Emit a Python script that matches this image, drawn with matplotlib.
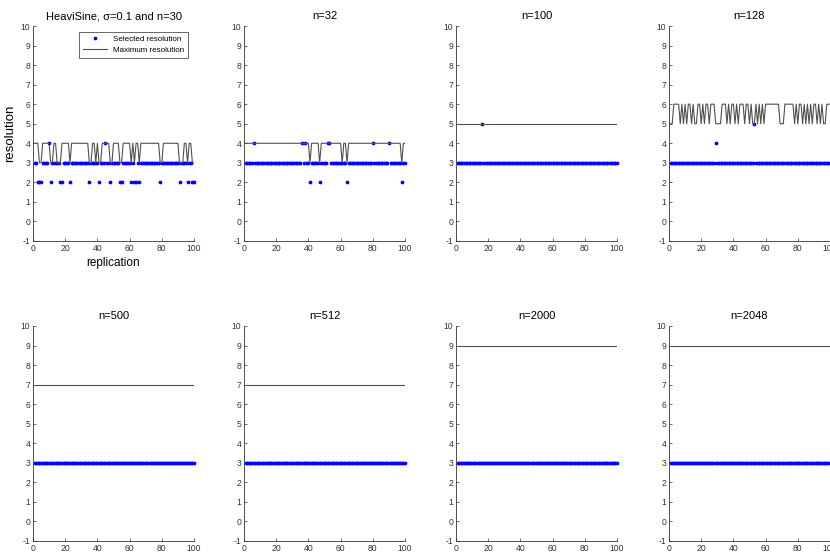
import matplotlib
matplotlib.use("Agg")
import matplotlib.pyplot as plt
import numpy as np

plt.rcParams["font.family"] = ["Liberation Sans", "DejaVu Sans"]

# replication index
replication = list(range(1, 101))

titles = ["HeaviSine, \u03c3=0.1 and n=30", "n=32", "n=100", "n=128",
          "n=500", "n=512", "n=2000", "n=2048"]

# maximum resolution per replication (one digit per replication, 10 per group)
max_n30 = ("4443344444" "3344333444" "4434444444" "4444334434"
           "3344444334" "4443344444" "3434434444" "4444444433"
           "4444444444" "3334434433")
max_n32 = ("4444444444" "4444444444" "4444444444" "4444444444"
           "3444443444" "4444444444" "3443444444" "4444444444"
           "4444444444" "4444444344")
max_n100 = [5] * 100
max_n128 = ("5566665656" "5665655665" "6566566655" "5566656566"
            "5656665665" "6556565656" "6666666655" "5666666565"
            "6656565656" "6565655666")
max_n500 = [7] * 100
max_n512 = [7] * 100
max_n2000 = [9] * 100
max_n2048 = [9] * 100

# selected resolution per replication
sel_n30 = ("3322233334" "2333332233" "3323333333" "3333233333"
           "2333433233" "3332233333" "2322323333" "3333333323"
           "3333333333" "2333323322")
sel_n32 = ("3333343333" "3333333333" "3333333333" "3333343433"
           "2333332333" "3443333333" "3332333333" "3333333334"
           "3333333334" "3333333233")
sel_n100 = ("3333333333" "3333353333" "3333333333" "3333333333"
            "3333333333" "3333333333" "3333333333" "3333333333"
            "3333333333" "3333333333")
sel_n128 = ("3333333333" "3333333333" "3333333343" "3333333333"
            "3333333333" "3353333333" "3333333333" "3333333333"
            "3333333333" "3333333333")
sel_n500 = [3] * 100
sel_n512 = [3] * 100
sel_n2000 = [3] * 100
sel_n2048 = [3] * 100

max_res = [max_n30, max_n32, max_n100, max_n128,
           max_n500, max_n512, max_n2000, max_n2048]
sel_res = [sel_n30, sel_n32, sel_n100, sel_n128,
           sel_n500, sel_n512, sel_n2000, sel_n2048]


def to_array(v):
    return np.array([int(c) for c in v]) if isinstance(v, str) else np.array(v)


fig = plt.figure(figsize=(8.3, 5.53), dpi=100)

W, H = 830.0, 553.0
lefts = [33, 244, 456, 669]
tops = [26, 326]
aw, ah = 161, 215

narrow = ["Liberation Sans Narrow", "Liberation Sans", "DejaVu Sans"]

for i in range(8):
    r, c = divmod(i, 4)
    ax = fig.add_axes([lefts[c] / W, 1 - (tops[r] + ah) / H, aw / W, ah / H])
    x = np.array(replication)
    sel = to_array(sel_res[i])
    mx = to_array(max_res[i])
    ax.plot(x, sel, ".", color="#0000ff", ms=3.4, clip_on=False,
            label="Selected resolution")
    ax.plot(x, mx, "-", color="#505050", lw=0.8, label="Maximum resolution")

    ax.set_xlim(0, 100)
    ax.set_ylim(-1, 10)
    ax.set_xticks(range(0, 101, 20))
    ax.set_yticks(range(-1, 11))
    ax.set_yticklabels(["-1"] + [str(v) for v in range(0, 11)])
    for lab in ax.get_xticklabels() + ax.get_yticklabels():
        lab.set_fontfamily(narrow)
        lab.set_fontsize(6.2)
    ax.tick_params(direction="in", length=2, width=0.5, pad=2, colors="#333333")
    for s in ["top", "right"]:
        ax.spines[s].set_visible(False)
    for s in ["left", "bottom"]:
        ax.spines[s].set_linewidth(0.6)
        ax.spines[s].set_color("#333333")

    ax.set_title(titles[i], fontsize=8, pad=5)

    if i == 0:
        ax.set_ylabel("resolution", fontsize=9.5, labelpad=3)
        ax.set_xlabel("replication", fontsize=8.5, labelpad=3,
                      fontfamily=narrow)
        leg = ax.legend(loc="upper right", frameon=True,
                        prop={"family": narrow, "size": 5.8},
                        fancybox=False, borderpad=0.4, handlelength=3.0,
                        labelspacing=0.45, markerscale=1.0,
                        bbox_to_anchor=(0.985, 0.99))
        leg.get_frame().set_edgecolor("#222222")
        leg.get_frame().set_linewidth(0.6)

fig.savefig("out.png", dpi=100)
